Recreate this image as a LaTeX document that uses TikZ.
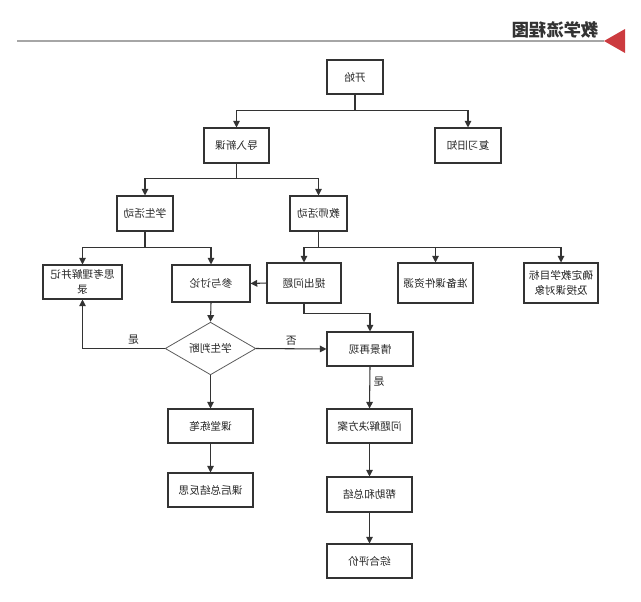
\documentclass[tikz,border=0pt]{standalone}
\usepackage{fontspec}
\setmainfont{Noto Sans CJK SC}
\usetikzlibrary{shapes.geometric,arrows.meta}
\definecolor{linegray}{HTML}{333333}
\definecolor{rulegray}{HTML}{A6A6A6}
\definecolor{flagred}{HTML}{CC3B3F}

\begin{document}
\begin{tikzpicture}[x=0.75pt,y=-0.75pt,
		every node/.style={xscale=-1, font=\fontsize{8}{11}\selectfont, text=black!85},
		box/.style={draw=linegray, line width=0.8pt, minimum height=25.5pt, inner sep=2pt, align=center},
		decision/.style={diamond, draw=linegray!80, line width=0.6pt, minimum width=68pt, minimum height=31pt, inner sep=0pt},
		arr/.style={draw=linegray, line width=0.8pt, -{Triangle[length=5pt,width=5pt]}},
		lbl/.style={inner sep=2.5pt}]
		\useasboundingbox (0,0) rectangle (641,601);
		% heading
		\draw[rulegray, line width=1.2pt] (17,41) -- (604,41);
		\fill[flagred] (604,41) -- (625,29) -- (625,53) -- cycle;
		\node[font=\fontsize{13}{15}\selectfont\bfseries, text=black!80] (title) at (555.5,29.5) {教学流程图};
		%
		\node[box, minimum width=42pt] (start) at (355,77) {开始};
		\node[box, minimum width=48.75pt, minimum height=26.25pt] (intro) at (236.5,145.5) {导入新课};
		\node[box, minimum width=49.5pt, minimum height=26.25pt] (review) at (468,145.5) {复习旧知};
		\node[box, minimum width=42pt, minimum height=26.25pt] (student) at (145,213.5) {学生活动};
		\node[box, minimum width=42.75pt, minimum height=26.25pt] (teacher) at (318.5,213.5) {教师活动};
		\node[box, minimum width=59.25pt] (think) at (82.5,282) {思考理解并记\\录};
		\node[box, minimum width=58.5pt, minimum height=27.75pt] (discuss) at (211,283.5) {参与讨论};
		\node[box, minimum width=55.5pt, minimum height=30pt] (raise) at (304,283) {提出问题};
		\node[box, minimum width=56.25pt, minimum height=30pt] (prepare) at (435.5,283) {准备课件资源};
		\node[box, minimum width=55.5pt, minimum height=30pt] (goal) at (561,283) {确定教学目标\\及授课对象};
		\node[decision] (judge) at (210.5,348.5) {学生判断};
		\node[box, minimum width=64.5pt] (scene) at (370,349) {情景再现};
		\node[box, minimum width=63.75pt] (practice) at (210.5,426) {课堂练笔};
		\node[box, minimum width=63.75pt] (reflect) at (210.5,490) {课后总结反思};
		\node[box, minimum width=63.75pt] (solve) at (369.5,426) {问题解决方案};
		\node[box, minimum width=63.75pt, minimum height=26.25pt] (help) at (369.5,494.5) {帮助和总结};
		\node[box, minimum width=63.75pt] (evaluate) at (369.5,561) {综合评价};
		%
		\draw[arr] (start.south) -- ++(0,16) -| (intro.north);
		\draw[arr] (start.south) -- ++(0,16) -| (review.north);
		\draw[arr] (intro.south) -- ++(0,15) -| (student.north);
		\draw[arr] (intro.south) -- ++(0,15) -| (teacher.north);
		\draw[arr] (student.south) -- ++(0,16) -| (think.north);
		\draw[arr] (student.south) -- ++(0,16) -| (discuss.north);
		\draw[arr] (teacher.south) -- ++(0,16) -| (raise.north);
		\draw[arr] (teacher.south) -- ++(0,16) -| (prepare.north);
		\draw[arr] (teacher.south) -- ++(0,16) -| (goal.north);
		% nodes are mirrored: east is on the left, west on the right
		\draw[arr] (raise.east) -- (discuss.west);
		\draw[arr] (discuss.south) -- (judge.north);
		\draw[arr] (judge.east) -| node[lbl, pos=0.19, above] {是} (think.south);
		\draw[arr] (judge.west) -- node[lbl, above] {否} (scene.east);
		\draw[arr] (raise.south) -- ++(0,10) -| (scene.north);
		\draw[arr] (judge.south) -- (practice.north);
		\draw[arr] (practice.south) -- (reflect.north);
		\draw[arr] (scene.south) -- node[lbl, pos=0.37, left] {是} (solve.north);
		\draw[arr] (solve.south) -- (help.north);
		\draw[arr] (help.south) -- (evaluate.north);
	\end{tikzpicture}
\end{document}
